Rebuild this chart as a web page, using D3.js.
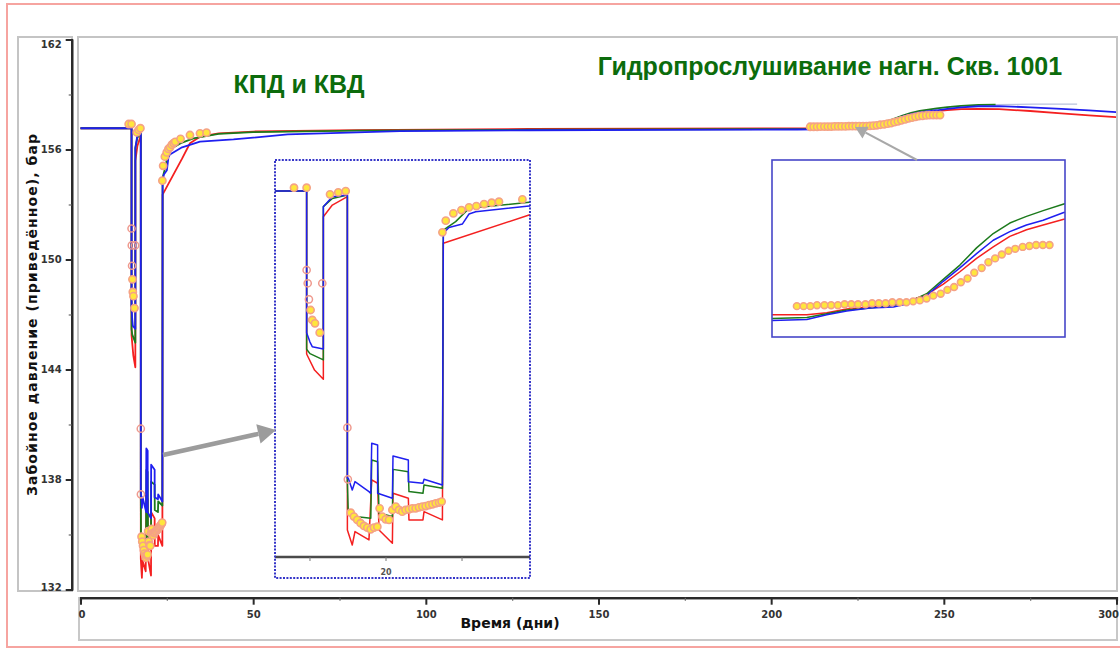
<!DOCTYPE html>
<html>
<head>
<meta charset="utf-8">
<script src="https://cdn.jsdelivr.net/npm/d3@7"></script>
<style>
body{margin:0;background:#fff;font-family:"Liberation Sans",Arial,sans-serif;}
</style>
</head>
<body>
<script>
"use strict";

// chart data (days / bar)
var xTicks = [0, 50, 100, 150, 200, 250, 300];
var xMinor = [25, 75, 125, 175, 225, 275];
var yTicks = [132, 138, 144, 150, 156, 162];
var yMinor = [135, 141, 147, 153, 159];
var inset1Ticks = [15, 20, 25];
var inset1Labels = [20];

var title1 = "КПД и КВД";
var title2 = "Гидропрослушивание нагн. Скв. 1001";
var xLabel = "Время (дни)";
var yLabel = "Забойное давление (приведённое), бар";

var blueDays = [0, 14.78, 14.78, 15.0, 15.15, 15.88, 15.88, 16.47, 17.46, 17.46, 17.52, 17.78, 17.96, 18.88, 19.0, 19.06, 19.45, 19.45, 20.42, 20.46, 21.47, 21.47, 22.43, 22.5, 23.71, 23.77, 24.14, 25.02, 25.46, 25.9, 29.41, 34.6, 44.3, 60, 92.5, 130, 170, 207.58, 212.78, 215.75, 218.72, 222.19, 225.66, 228.14, 230.61, 233.09, 235.56, 238.04, 240.52, 242.99, 245.47, 247.95, 251.02, 255, 260, 266, 275, 284, 292, 300];
var blueVals = [157.16, 157.16, 147.35, 146.7, 146.38, 146.22, 156.08, 156.77, 156.88, 137.26, 137.26, 136.45, 137.03, 136.34, 136.22, 139.69, 139.57, 136.22, 135.88, 138.81, 138.53, 137.03, 136.92, 137.19, 136.8, 154.23, 154.64, 154.87, 155.57, 155.73, 156.12, 156.43, 156.55, 156.82, 157.0, 157.05, 157.07, 157.09, 157.10, 157.15, 157.19, 157.22, 157.23, 157.27, 157.35, 157.50, 157.64, 157.79, 157.93, 158.02, 158.09, 158.14, 158.22, 158.30, 158.36, 158.37, 158.30, 158.22, 158.13, 158.04];

var greenDays = [0, 14.78, 14.78, 15.0, 15.88, 15.88, 16.47, 17.46, 17.46, 17.52, 17.96, 19.0, 19.06, 19.45, 19.54, 20.42, 20.46, 21.47, 21.51, 22.43, 22.5, 23.71, 23.77, 24.58, 25.46, 29.41, 32.7, 40, 50, 80, 130, 207.58, 212.78, 215.75, 218.72, 222.19, 225.66, 228.14, 230.61, 233.09, 235.56, 238.04, 240.52, 242.99, 245.47, 247.95, 251.02, 255, 260, 265];
var greenVals = [157.16, 157.16, 146.2, 145.9, 145.46, 156.08, 156.65, 156.88, 137.03, 134.84, 134.61, 134.5, 138.53, 138.41, 134.84, 134.61, 137.88, 137.72, 136.34, 136.22, 136.8, 136.57, 154.46, 155.04, 155.96, 156.38, 156.61, 156.85, 156.95, 157.03, 157.08, 157.11, 157.12, 157.16, 157.20, 157.22, 157.25, 157.29, 157.37, 157.52, 157.67, 157.85, 158.0, 158.11, 158.18, 158.24, 158.31, 158.38, 158.43, 158.45];
// faint continuation of the green run
var tailDays = [265, 276, 288.6];
var tailVals = [158.45, 158.47, 158.48];

var redDays = [0, 14.78, 14.78, 15.3, 15.88, 15.88, 16.47, 17.46, 17.46, 17.78, 17.96, 18.88, 19.06, 19.45, 19.54, 20.42, 20.46, 21.47, 21.51, 22.43, 22.5, 23.71, 23.77, 29.41, 31.7, 34.6, 40, 50, 80, 130, 207.58, 212.78, 215.75, 218.72, 222.19, 225.66, 228.14, 230.61, 233.09, 235.56, 238.04, 240.52, 242.99, 245.47, 247.95, 251.02, 255, 260, 266, 275, 284, 292, 300];
var redVals = [157.16, 157.16, 145.87, 144.76, 144.12, 155.38, 156.19, 156.77, 133.68, 132.64, 133.57, 132.99, 137.15, 136.92, 133.68, 132.76, 136.22, 135.88, 134.38, 134.38, 134.95, 134.38, 153.54, 155.5, 156.34, 156.7, 156.88, 156.98, 157.06, 157.12, 157.15, 157.15, 157.17, 157.21, 157.23, 157.25, 157.30, 157.36, 157.47, 157.60, 157.74, 157.86, 157.97, 158.04, 158.09, 158.15, 158.2, 158.22, 158.2, 158.1, 157.97, 157.86, 157.76];

// measured pressure
var obsDays = [13.95, 14.78, 15.04, 15.15, 15.33, 15.64, 16.32, 16.86, 17.35, 17.68, 17.89, 18.11, 18.33, 18.55, 18.77, 18.99, 19.21, 19.43, 19.58, 19.76, 19.98, 20.2, 20.42, 20.64, 20.86, 21.07, 21.29, 21.51, 21.73, 21.95, 22.17, 22.39, 22.61, 22.83, 23.05, 23.27, 23.49, 23.66, 23.71, 23.93, 24.43, 24.96, 25.46, 25.94, 26.45, 26.95, 27.43, 28.97, 31.7, 34.6, 36.5,
  211.3, 212.3, 213.3, 214.3, 215.4, 216.4, 217.4, 218.4, 219.4, 220.4, 221.5, 222.5, 223.5, 224.5, 225.5, 226.6, 227.6, 228.6, 229.6, 230.6, 231.6, 232.7, 233.7, 234.7, 235.7, 236.7, 237.7, 238.8, 239.8, 240.8, 241.8, 242.8, 243.8, 244.9, 245.9, 246.9, 247.9, 248.9];
var obsVals = [157.39, 157.39, 148.92, 148.23, 148.0, 147.35, 156.93, 157.07, 157.16, 134.88, 134.61, 134.38, 134.15, 133.96, 133.85, 133.73, 133.85, 133.91, 135.18, 134.61, 134.42, 134.38, 135.07, 135.3, 135.07, 134.95, 135.07, 135.11, 135.18, 135.18, 135.25, 135.3, 135.34, 135.41, 135.46, 135.53, 135.58, 135.65, 154.30, 155.11, 155.61, 155.84, 156.03, 156.12, 156.26, 156.35, 156.42, 156.58, 156.79, 156.88, 156.92,
  157.24, 157.24, 157.24, 157.25, 157.25, 157.25, 157.25, 157.26, 157.26, 157.26, 157.26, 157.27, 157.27, 157.27, 157.28, 157.28, 157.28, 157.29, 157.30, 157.32, 157.35, 157.37, 157.41, 157.44, 157.49, 157.53, 157.59, 157.64, 157.70, 157.74, 157.78, 157.82, 157.84, 157.86, 157.87, 157.88, 157.88, 157.88];
// measured points during the drops (drawn hollow)
var hollowDays = [14.78, 14.85, 15.81, 14.93, 17.46, 17.49];
var hollowVals = [151.69, 150.77, 150.77, 149.66, 140.77, 137.19];

var BLUE = "#1f1ff0", GREEN = "#1c7a1c", RED = "#f42020";
var AXFONT = "'DejaVu Sans', Verdana, sans-serif";

var width = 1120, height = 650;

function zip(a, b){ return a.map(function(d, i){ return [d, b[i]]; }); }

var svg = d3.select("body").append("svg")
  .attr("width", width)
  .attr("height", height);

// outer pink frame
svg.append("rect")
  .attr("x", 7).attr("y", 4).attr("width", 1125).attr("height", 643)
  .attr("fill", "none").attr("stroke", "#f6a4a0").attr("stroke-width", 2);

// gray panels
svg.append("rect").attr("x", 18).attr("y", 37).attr("width", 54).attr("height", 554)
  .attr("fill", "#fff").attr("stroke", "#c4c4c4").attr("stroke-width", 2);
svg.append("rect").attr("x", 78).attr("y", 37).attr("width", 1039).attr("height", 554)
  .attr("fill", "#fff").attr("stroke", "#c4c4c4").attr("stroke-width", 2);
svg.append("rect").attr("x", 79).attr("y", 598).attr("width", 1038).attr("height", 42)
  .attr("fill", "#fff").attr("stroke", "#c8c8c8").attr("stroke-width", 2);

// main scales
var x = d3.scaleLinear().domain([0, 300]).range([80.5, 1116.5]);
var y = d3.scaleLinear().domain([132, 162]).range([589.5, 39.5]);

// axes
function styleAxis(g){
  g.select(".domain").attr("stroke", "#2a2a2a").attr("stroke-width", 2.2);
  g.selectAll(".tick line").attr("stroke", "#2a2a2a").attr("stroke-width", 2);
  g.selectAll(".tick text").attr("fill", "#333").style("font-size", "10px")
    .style("font-weight", "bold").style("font-family", AXFONT);
}

var gy = svg.append("g").attr("transform", "translate(71.7,0)")
  .call(d3.axisLeft(y).tickValues(yTicks).tickSize(6).tickSizeOuter(0).tickPadding(4).tickFormat(d3.format("d")));
styleAxis(gy);
gy.selectAll(".tick text").attr("dy", function(d){ return d === 162 ? "0.75em" : d === 132 ? "0.1em" : "0.32em"; });
var gym = svg.append("g").attr("transform", "translate(71.7,0)")
  .call(d3.axisLeft(y).tickValues(yMinor).tickSize(3).tickFormat(""));
styleAxis(gym);
gym.selectAll(".tick line").attr("stroke-width", 1.2).attr("stroke", "#666");

var gx = svg.append("g").attr("transform", "translate(0,597.7)")
  .call(d3.axisBottom(x).tickValues(xTicks).tickSize(7).tickSizeOuter(0).tickPadding(6));
styleAxis(gx);
gx.selectAll(".tick text").attr("text-anchor", function(d){ return d === 300 ? "end" : "middle"; })
  .attr("dx", function(d){ return d === 300 ? "2" : d === 0 ? "1" : "0"; });
var gxm = svg.append("g").attr("transform", "translate(0,597.7)")
  .call(d3.axisBottom(x).tickValues(xMinor).tickSize(3).tickFormat(""));
styleAxis(gxm);
gxm.selectAll(".tick line").attr("stroke-width", 1.2).attr("stroke", "#666");

// axis titles
svg.append("text").attr("x", 510).attr("y", 628).attr("text-anchor", "middle")
  .style("font-family", AXFONT).style("font-size", "14px").style("font-weight", "bold").attr("fill", "#111").text(xLabel);
svg.append("text").attr("transform", "translate(37,315) rotate(-90)").attr("text-anchor", "middle")
  .attr("textLength", 362).attr("lengthAdjust", "spacing")
  .style("font-family", AXFONT).style("font-size", "14px").style("font-weight", "bold").attr("fill", "#111").text(yLabel);

// titles
svg.append("text").attr("x", 299).attr("y", 93).attr("text-anchor", "middle")
  .style("font-size", "25px").style("font-weight", "bold").attr("fill", "#0c6c0c").text(title1);
svg.append("text").attr("x", 830).attr("y", 75).attr("text-anchor", "middle")
  .style("font-size", "25px").style("font-weight", "bold").attr("fill", "#0c6c0c").text(title2);

// draws the three runs + measured points into a group with given scales
function drawRuns(g, sx, sy, lw, r){
  var line = d3.line().x(function(d){ return sx(d[0]); }).y(function(d){ return sy(d[1]); });
  g.append("path").datum(zip(tailDays, tailVals)).attr("d", line)
    .attr("fill", "none").attr("stroke", "#b9c2dc").attr("stroke-width", 1.2);
  [[redDays, redVals, RED], [greenDays, greenVals, GREEN], [blueDays, blueVals, BLUE]].forEach(function(s){
    g.append("path").datum(zip(s[0], s[1])).attr("d", line)
      .attr("fill", "none").attr("stroke", s[2]).attr("stroke-width", lw)
      .attr("stroke-linejoin", "round");
  });
  g.selectAll("circle.h").data(zip(hollowDays, hollowVals)).enter().append("circle")
    .attr("class", "h").attr("cx", function(d){ return sx(d[0]); }).attr("cy", function(d){ return sy(d[1]); })
    .attr("r", r).attr("fill", "none").attr("stroke", "#ef9a8e").attr("stroke-width", 1.5);
  g.selectAll("circle.o").data(zip(obsDays, obsVals)).enter().append("circle")
    .attr("class", "o").attr("cx", function(d){ return sx(d[0]); }).attr("cy", function(d){ return sy(d[1]); })
    .attr("r", r).attr("fill", "#ffe63c").attr("stroke", "#f5a286").attr("stroke-width", 1.6);
}

var defs = svg.append("defs");
function clip(id, x0, y0, w, h){
  defs.append("clipPath").attr("id", id).append("rect").attr("x", x0).attr("y", y0).attr("width", w).attr("height", h);
}
clip("cMain", 79, 38, 1037, 552);
clip("cIn1", 275, 160, 255, 418);
clip("cIn2", 772, 160, 293, 177);

drawRuns(svg.append("g").attr("clip-path", "url(#cMain)"), x, y, 1.8, 3.6);

// inset 1: zoom on the КПД/КВД period
var x1 = d3.scaleLinear().domain([12.7, 29.47]).range([275, 530]);
var y1 = d3.scaleLinear().domain([131.81, 159.31]).range([557, 160]);
svg.append("rect").attr("x", 275).attr("y", 160).attr("width", 255).attr("height", 418).attr("fill", "#fff");
var in1 = svg.append("g").attr("clip-path", "url(#cIn1)");
in1.append("line").attr("x1", 275).attr("x2", 530).attr("y1", 557).attr("y2", 557)
  .attr("stroke", "#4a4a4a").attr("stroke-width", 2.5);
in1.selectAll("line.t").data(inset1Ticks).enter().append("line").attr("class", "t")
  .attr("x1", x1).attr("x2", x1).attr("y1", 557).attr("y2", 561).attr("stroke", "#777").attr("stroke-width", 1);
in1.selectAll("text").data(inset1Labels).enter().append("text")
  .attr("x", x1).attr("y", 575).attr("text-anchor", "middle").attr("fill", "#555")
  .style("font-family", AXFONT).style("font-size", "8px").style("font-weight", "bold").text(function(d){ return d; });
drawRuns(in1.append("g"), x1, y1, 1.5, 3.6);
svg.append("rect").attr("x", 275).attr("y", 160).attr("width", 255).attr("height", 418)
  .attr("fill", "none").attr("stroke", "#3535c8").attr("stroke-width", 2).attr("stroke-dasharray", "2,1.4");

// inset 2: zoom on the interference response
var x2 = d3.scaleLinear().domain([207.6, 251.2]).range([772, 1065]);
var y2 = d3.scaleLinear().domain([156.92, 158.77]).range([336.7, 160]);
svg.append("rect").attr("x", 772).attr("y", 160).attr("width", 293).attr("height", 177).attr("fill", "#fff");
drawRuns(svg.append("g").attr("clip-path", "url(#cIn2)"), x2, y2, 1.5, 3.4);
svg.append("rect").attr("x", 772).attr("y", 160).attr("width", 293).attr("height", 177)
  .attr("fill", "none").attr("stroke", "#4646c8").attr("stroke-width", 1.6);

// pointer arrows
function arrow(x0, y0, x1_, y1_, w, head, col){
  var a = Math.atan2(y1_ - y0, x1_ - x0);
  var bx = x1_ - head * Math.cos(a), by = y1_ - head * Math.sin(a);
  svg.append("line").attr("x1", x0).attr("y1", y0).attr("x2", bx).attr("y2", by)
    .attr("stroke", col).attr("stroke-width", w);
  var hw = head * 0.55;
  svg.append("path").attr("fill", col)
    .attr("d", "M" + x1_ + "," + y1_ + "L" + (bx + hw * Math.sin(a)) + "," + (by - hw * Math.cos(a)) +
      "L" + (bx - hw * Math.sin(a)) + "," + (by + hw * Math.cos(a)) + "Z");
}
arrow(163, 455, 276, 430, 4.5, 18, "#9c9c9c");
arrow(917, 160, 855, 127, 2, 12, "#a8a8a8");
</script>
</body>
</html>
